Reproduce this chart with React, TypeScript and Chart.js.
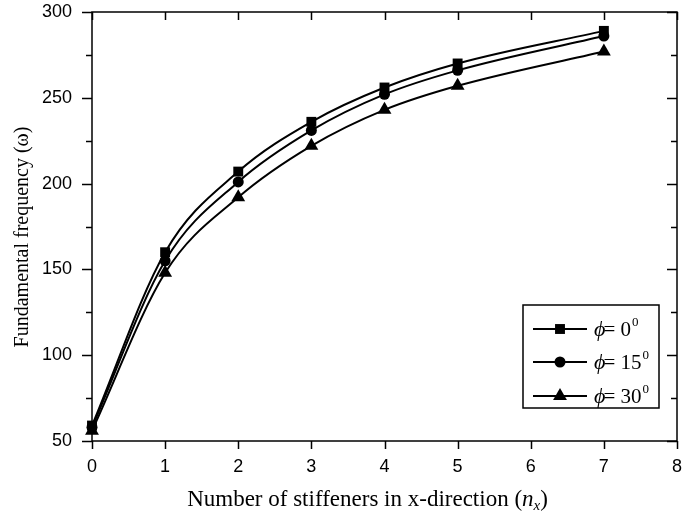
import React, { useEffect, useRef } from 'react';
import { Chart, registerables } from 'chart.js';

Chart.register(...registerables);

const xValues = [0, 1, 2, 3, 4, 5, 7];
const seriesPhi0 = [59, 160, 207, 236, 256, 270, 289];
const seriesPhi15 = [58, 155, 201, 231, 252, 266, 286];
const seriesPhi30 = [56, 148, 192, 222, 243, 257, 277];
const legendAngles = ['0', '15', '30'];
const pointStyles = ['rect', 'circle', 'triangle'];
const pointRadii = [7, 5.5, 8];
const xTickValues = [0, 1, 2, 3, 4, 5, 6, 7, 8];
const yMajorTicks = [50, 100, 150, 200, 250, 300];
const yMinorTicks = [75, 125, 175, 225, 275];
const xTitleMain = 'Number of stiffeners in x-direction (';
const yTitle = 'Fundamental frequency (\u03c9)';

const SERIF = '"Liberation Serif", "Times New Roman", serif';
const SANS = '"Liberation Sans", Arial, sans-serif';

function marker(ctx: CanvasRenderingContext2D, style: string, r: number, x: number, y: number) {
  ctx.beginPath();
  if (style === 'rect') {
    const s = r * Math.SQRT1_2;
    ctx.rect(x - s, y - s, 2 * s, 2 * s);
  } else if (style === 'circle') {
    ctx.arc(x, y, r, 0, Math.PI * 2);
  } else {
    const a = (2 * Math.PI) / 3;
    ctx.moveTo(x, y - r);
    ctx.lineTo(x + Math.sin(a) * r, y - Math.cos(a) * r);
    ctx.lineTo(x + Math.sin(2 * a) * r, y - Math.cos(2 * a) * r);
    ctx.closePath();
  }
  ctx.fill();
}

const framePlugin = {
  id: 'framePlugin',
  afterDatasetsDraw(chart: any) {
    const { ctx, chartArea, scales } = chart;
    const { left, right, top, bottom } = chartArea;
    const xs = scales.x;
    const ys = scales.y;
    ctx.save();
    ctx.strokeStyle = '#000';
    ctx.lineWidth = 1.5;
    ctx.strokeRect(left, top, right - left, bottom - top);
    ctx.beginPath();
    xTickValues.forEach((v) => {
      const px = Math.round(xs.getPixelForValue(v)) + 0.5;
      ctx.moveTo(px, bottom);
      ctx.lineTo(px, bottom + 8);
      ctx.moveTo(px, top);
      ctx.lineTo(px, top + 8);
    });
    yMajorTicks.forEach((v) => {
      const py = Math.round(ys.getPixelForValue(v)) + 0.5;
      ctx.moveTo(left, py);
      ctx.lineTo(left - 10, py);
      ctx.moveTo(right, py);
      ctx.lineTo(right - 10, py);
    });
    yMinorTicks.forEach((v) => {
      const py = Math.round(ys.getPixelForValue(v)) + 0.5;
      ctx.moveTo(left, py);
      ctx.lineTo(left - 6, py);
      ctx.moveTo(right, py);
      ctx.lineTo(right - 6, py);
    });
    ctx.stroke();

    // axis titles
    ctx.fillStyle = '#000';
    ctx.textBaseline = 'alphabetic';
    const xFont = '23px ' + SERIF;
    const xFontI = 'italic 23px ' + SERIF;
    const xFontSub = 'italic 15px ' + SERIF;
    ctx.font = xFont;
    const w1 = ctx.measureText(xTitleMain).width;
    ctx.font = xFontI;
    const w2 = ctx.measureText('n').width;
    ctx.font = xFontSub;
    const w3 = ctx.measureText('x').width;
    ctx.font = xFont;
    const w4 = ctx.measureText(')').width;
    const total = w1 + w2 + w3 + w4;
    let tx = 186 + (363 - total) / 2;
    const by = 506;
    ctx.textAlign = 'left';
    ctx.font = xFont;
    ctx.fillText(xTitleMain, tx, by);
    tx += w1;
    ctx.font = xFontI;
    ctx.fillText('n', tx, by);
    tx += w2;
    ctx.font = xFontSub;
    ctx.fillText('x', tx, by + 4);
    tx += w3;
    ctx.font = xFont;
    ctx.fillText(')', tx, by);

    ctx.save();
    ctx.translate(28, 237);
    ctx.rotate(-Math.PI / 2);
    ctx.font = '20px ' + SERIF;
    ctx.textAlign = 'center';
    ctx.fillText(yTitle, 0, 0);
    ctx.restore();

    // legend
    const lx = 523, ly = 305, lw = 136, lh = 103;
    ctx.fillStyle = '#fff';
    ctx.fillRect(lx, ly, lw, lh);
    ctx.lineWidth = 1.5;
    ctx.strokeStyle = '#000';
    ctx.strokeRect(lx, ly, lw, lh);
    const rows = [329, 362, 396];
    chart.data.datasets.forEach((ds: any, i: number) => {
      const ry = rows[i];
      ctx.beginPath();
      ctx.lineWidth = 2;
      ctx.moveTo(533, ry);
      ctx.lineTo(587, ry);
      ctx.stroke();
      ctx.fillStyle = '#000';
      marker(ctx, ds.pointStyle, ds.pointRadius, 560, ry);
      ctx.textAlign = 'left';
      ctx.font = 'italic 22px ' + SERIF;
      let px = 594;
      ctx.fillText('\u03d5', px, ry + 7);
      px += ctx.measureText('\u03d5').width - 2;
      ctx.font = '21px ' + SERIF;
      ctx.fillText('= ' + legendAngles[i], px, ry + 7);
      px += ctx.measureText('= ' + legendAngles[i]).width;
      ctx.font = '13px ' + SERIF;
      ctx.fillText('0', px + 1, ry - 3);
    });
    ctx.restore();
  },
};

export default function App() {
  const ref = useRef<HTMLCanvasElement | null>(null);
  useEffect(() => {
    if (!ref.current) return;
    const mk = (vals: number[]) => xValues.map((x, i) => ({ x, y: vals[i] }));
    const all = [seriesPhi0, seriesPhi15, seriesPhi30];
    const chart = new Chart(ref.current, {
      type: 'line',
      data: {
        datasets: all.map((vals, i) => ({
          label: 'phi=' + legendAngles[i],
          data: mk(vals),
          borderColor: '#000',
          backgroundColor: '#000',
          borderWidth: 2,
          pointStyle: pointStyles[i] as any,
          pointRadius: pointRadii[i],
          pointBorderWidth: 0,
          pointBackgroundColor: '#000',
          pointBorderColor: '#000',
          cubicInterpolationMode: 'monotone' as const,
          clip: false as any,
        })),
      },
      options: {
        animation: false,
        responsive: false,
        devicePixelRatio: 1,
        layout: { padding: { left: 0, right: 6, top: 12, bottom: 0 } },
        plugins: { legend: { display: false }, tooltip: { enabled: false } },
        scales: {
          x: {
            type: 'linear',
            min: 0,
            max: 8,
            afterFit: (s: any) => { s.height = 79; s.paddingLeft = 0; s.paddingRight = 0; },
            grid: { display: true, drawOnChartArea: false, drawTicks: true, tickLength: 8, color: 'rgba(0,0,0,0)' },
            border: { display: false },
            ticks: { stepSize: 1, padding: 7, color: '#000', font: { family: SANS, size: 18 }, maxRotation: 0 },
          },
          y: {
            type: 'linear',
            min: 50,
            max: 300,
            afterFit: (s: any) => { s.width = 92; s.paddingTop = 0; s.paddingBottom = 0; },
            grid: { display: true, drawOnChartArea: false, drawTicks: true, tickLength: 10, color: 'rgba(0,0,0,0)' },
            border: { display: false },
            ticks: { stepSize: 50, padding: 10, color: '#000', font: { family: SANS, size: 18 } },
          },
        },
      },
      plugins: [framePlugin],
    });
    return () => chart.destroy();
  }, []);
  return (
    <div style={{ position: 'fixed', left: 0, top: 0, width: 685, height: 520, background: '#fff' }}>
      <canvas ref={ref} width={685} height={520} style={{ width: 685, height: 520, display: 'block' }} />
    </div>
  );
}
